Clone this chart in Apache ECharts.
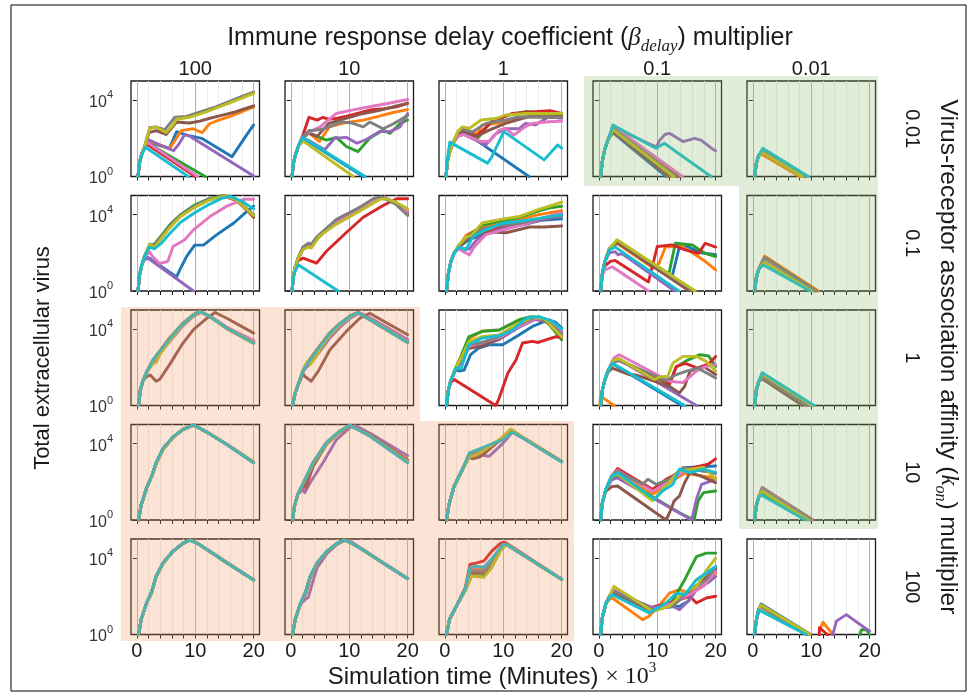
<!DOCTYPE html>
<html>
<head>
<meta charset="utf-8">
<script src="https://cdn.jsdelivr.net/npm/echarts@6/dist/echarts.min.js"></script>
<style>
  html, body { margin: 0; padding: 0; background: #fff; }
  #chart { width: 974px; height: 694px; }
</style>
</head>
<body>
<div id="chart"></div>
<script>
// Column headers: immune response delay coefficient multiplier
const delayMultipliers = ['100', '10', '1', '0.1', '0.01'];
// Row headers: virus-receptor association affinity multiplier
const konMultipliers = ['0.01', '0.1', '1', '10', '100'];
// Time axis (x 10^3 minutes)
const xTickValues = [0, 2, 4, 6, 8, 10, 12, 14, 16, 18, 20];
const xLabelValues = [0, 10, 20];
// Virus axis, in log10 units
const yLabelValues = [0, 4];
// Ten stochastic runs per panel, one colour each
const runColors = ['#1f77b4', '#ff7f0e', '#2ca02c', '#d62728', '#9467bd',
                   '#8c564b', '#e377c2', '#7f7f7f', '#bcbd22', '#17becf'];

// Each run: [time (10^3 min), log10 total extracellular virus]
// Runs listed blue, orange, green, red, purple, brown, pink, gray, olive, cyan.

// ---- k_on x0.01 ----
const k001_d100 = [
  [[0.2,0],[0.45,0.7],[0.8,1.15],[1.3,1.5],[1.8,1.8],[5.6,1.48],[6.8,2.35],[8.5,2.17],[11.1,2.0],[16.3,1.04],[18.6,2.09],[20,2.7]],
  [[0.2,0],[0.45,0.7],[0.8,1.15],[1.3,1.5],[1.8,1.9],[5.6,1.45],[7.6,2.4],[9.6,2.5],[11.2,2.3],[12.4,2.75],[14,2.95],[16,3.15],[18,3.4],[20,3.65]],
  [[0.2,0],[0.45,0.7],[0.8,1.15],[1.3,1.5],[1.8,1.75],[11.7,0]],
  [[0.2,0],[0.45,0.7],[0.8,1.15],[1.3,1.5],[1.7,1.7],[10.0,0]],
  [[0.2,0],[0.45,0.7],[0.8,1.15],[1.3,1.5],[1.8,1.95],[4,1.65],[6.3,1.35],[7.2,1.7],[8.2,2.2],[9,2.12],[20,0.03]],
  [[0.2,0],[0.45,0.7],[0.8,1.15],[1.3,1.55],[2.1,2.3],[3.3,2.4],[5,2.2],[6.8,2.85],[9,2.8],[10.8,2.9],[12.5,3.05],[14.5,3.2],[16.5,3.35],[18.5,3.55],[20,3.7]],
  [[0.2,0],[0.45,0.7],[0.8,1.15],[1.3,1.5],[1.7,1.8],[10.4,0]],
  [[0.2,0],[0.45,0.7],[0.8,1.15],[1.3,1.55],[2.2,2.55],[3.2,2.6],[4.8,2.45],[6.5,3.1],[8.5,3.15],[11,3.4],[13.5,3.65],[16,3.95],[18,4.2],[20,4.42]],
  [[0.2,0],[0.45,0.7],[0.8,1.15],[1.3,1.55],[2.2,2.5],[3.2,2.6],[5,2.3],[6.2,2.7],[6.8,3.0],[9,3.1],[12,3.4],[15,3.75],[18,4.1],[20,4.35]],
  [[0.2,0],[0.4,0.6],[0.7,1.0],[1.0,1.25],[1.5,1.53],[8.8,0]]
];
const k001_d10 = [
  [[0.2,0],[0.45,0.7],[0.8,1.15],[1.3,1.6],[2.1,2.0],[12.4,0]],
  [[0.2,0],[0.45,0.7],[0.8,1.15],[1.3,1.6],[2.1,2.0],[3.1,2.3],[4.9,1.83],[6.6,2.6],[9,2.8],[12.4,2.95],[15,3.15],[17.5,3.35],[20,3.5]],
  [[0.2,0],[0.45,0.7],[0.8,1.15],[1.3,1.6],[2.1,2.0],[3,2.3],[4.5,2.1],[6.1,1.9],[7.8,2.05],[9.5,1.57],[11.5,1.3],[13.5,2.0],[15.8,2.43],[17,2.26],[18.7,2.78],[20,2.96]],
  [[0.2,0],[0.45,0.7],[0.8,1.15],[1.3,1.6],[2.1,2.2],[3.1,3.1],[4.5,2.95],[5.5,3.1],[6.4,3.0],[8,3.05],[10.1,3.2],[13.5,3.48],[16,3.55],[18.1,3.65],[20,3.83]],
  [[0.2,0],[0.45,0.7],[0.8,1.15],[1.3,1.6],[2.1,2.0],[3,1.9],[5.8,1.4],[7.5,2.0],[9.5,2.05],[11.3,1.74],[13,1.95],[15.2,2.35],[17,2.35],[18.7,2.6],[20,3.3]],
  [[0.2,0],[0.45,0.7],[0.8,1.15],[1.3,1.6],[2.1,2.1],[3.1,2.26],[4.5,2.1],[6.5,2.78],[9,3.0],[12.4,3.3],[15,3.45],[17.5,3.65],[20,3.83]],
  [[0.2,0],[0.45,0.7],[0.8,1.15],[1.3,1.6],[2.1,2.1],[3.1,2.3],[5,2.6],[7.8,3.3],[10,3.45],[13.5,3.65],[17,3.85],[20,4.03]],
  [[0.2,0],[0.45,0.7],[0.8,1.15],[1.3,1.6],[2.1,2.1],[3.1,2.4],[5,2.45],[6.1,2.55],[8.5,2.85],[10.5,2.8],[12.4,2.6],[13.5,2.85],[15.8,2.5],[17.5,2.75],[20,3.2]],
  [[0.2,0],[0.45,0.7],[0.8,1.15],[1.3,1.6],[2.1,1.85],[10.7,0]],
  [[0.2,0],[0.45,0.7],[0.8,1.15],[1.3,1.6],[2.0,2.05],[12.7,0]]
];
const k001_d1 = [
  [[0.2,0],[0.45,0.8],[0.8,1.25],[1.3,1.7],[2.2,2.1],[3,2.4],[14.4,0]],
  [[0.2,0],[0.45,0.8],[0.8,1.25],[1.3,1.7],[2.2,2.2],[3,2.5],[4.5,2.35],[5.6,2.25],[6.4,2.7],[9.3,2.8],[12,3.05],[15,3.15],[20,3.1]],
  [[0.2,0],[0.45,0.8],[0.8,1.25],[1.3,1.7],[2.2,2.2],[3.2,2.45],[5.6,2.0],[7.9,2.87],[11,3.22],[13.8,3.4],[16,3.35],[20,3.22]],
  [[0.2,0],[0.45,0.8],[0.8,1.25],[1.3,1.7],[2.2,2.2],[3.2,2.45],[5.4,2.1],[8.1,2.87],[11.5,3.3],[16.1,3.4],[18,3.45],[20,3.3]],
  [[0.2,0],[0.45,0.8],[0.8,1.25],[1.3,1.7],[2.2,2.1],[3.2,2.2],[6,1.8],[7,1.65],[8.8,2.26],[10.5,2.5],[12.7,2.5],[13.8,2.78],[15.5,2.7],[17.8,3.13],[20,3.05]],
  [[0.2,0],[0.45,0.8],[0.8,1.25],[1.3,1.7],[2.2,2.25],[3,2.43],[5.3,2.08],[7.6,2.43],[10.4,2.78],[14.4,3.13],[20,3.13]],
  [[0.2,0],[0.45,0.8],[0.8,1.25],[1.3,1.7],[2.2,2.1],[3.2,2.2],[6.2,1.83],[7.6,1.83],[9.3,2.43],[10.4,2.52],[11.8,2.17],[13.8,2.61],[15,2.78],[17.8,2.87],[20,2.9]],
  [[0.2,0],[0.45,0.8],[0.8,1.25],[1.3,1.7],[2.2,2.3],[3,2.5],[4.7,2.33],[7,2.78],[10.4,2.96],[12.7,3.13],[20,3.09]],
  [[0.2,0],[0.45,0.8],[0.8,1.25],[1.3,1.7],[2.2,2.35],[3,2.6],[4.2,2.52],[6.2,2.96],[8.9,3.05],[10.4,3.22],[13.8,3.3],[20,3.3]],
  [[0.2,0],[0.4,0.8],[0.6,1.3],[0.85,1.8],[7.3,0.7],[8,1.0],[10.1,2.35],[17,0.87],[19.3,1.65],[20,1.48]]
];
const k001_d01 = [
  [[0.3,0],[0.6,0.8],[1.0,1.4],[1.6,1.95],[2.4,2.3],[11.5,0]],
  [[0.3,0],[0.6,0.8],[1.0,1.4],[1.6,1.95],[2.4,2.4],[12.4,0]],
  [[0.3,0],[0.6,0.8],[1.0,1.4],[1.6,1.95],[2.5,2.55],[14,0]],
  [[0.3,0],[0.6,0.8],[1.0,1.4],[1.6,1.95],[2.5,2.5],[13.5,0]],
  [[0.3,0],[0.6,0.8],[1.0,1.4],[1.6,1.95],[2.5,2.6],[8.7,1.7],[9.9,1.55],[10.3,1.85],[11.3,2.2],[12.1,2.26],[14.4,1.83],[16.4,2.0],[17.5,1.9],[19.5,1.43],[20,1.35]],
  [[0.3,0],[0.6,0.8],[1.0,1.4],[1.6,1.95],[2.4,2.35],[12,0]],
  [[0.3,0],[0.6,0.8],[1.0,1.4],[1.6,1.95],[2.5,2.62],[14.3,0]],
  [[0.3,0],[0.6,0.8],[1.0,1.4],[1.6,1.95],[2.5,2.5],[13.2,0]],
  [[0.3,0],[0.6,0.8],[1.0,1.4],[1.6,1.95],[2.4,2.45],[12.8,0]],
  [[0.3,0],[0.6,0.8],[1.0,1.4],[1.6,1.95],[2.4,2.7],[8.7,1.65],[9.8,1.48],[11.2,1.74],[19.2,0]]
];
const k001_d001 = [
  [[0.3,0],[0.6,0.7],[1.0,1.1],[1.7,1.3],[8.6,0]],
  [[0.3,0],[0.6,0.7],[1.0,1.1],[1.6,1.15],[8.0,0]],
  [[0.3,0],[0.6,0.7],[1.0,1.1],[1.7,1.3],[8.7,0]],
  [[0.3,0],[0.6,0.7],[1.0,1.1],[1.7,1.32],[8.8,0]],
  [[0.3,0],[0.6,0.7],[1.0,1.1],[1.7,1.35],[8.9,0]],
  [[0.3,0],[0.6,0.7],[1.0,1.1],[1.7,1.35],[8.9,0]],
  [[0.3,0],[0.6,0.7],[1.0,1.1],[1.7,1.38],[9.0,0]],
  [[0.3,0],[0.6,0.7],[1.0,1.1],[1.7,1.4],[9.1,0]],
  [[0.3,0],[0.6,0.7],[1.0,1.1],[1.7,1.25],[8.5,0]],
  [[0.3,0],[0.6,0.7],[1.0,1.1],[1.7,1.48],[9.5,0]]
];

// ---- k_on x0.1 ----
const k01_d100 = [
  [[0.2,0],[0.45,0.8],[0.8,1.3],[1.3,1.7],[2.0,1.75],[6.8,0.74],[7.5,1.2],[8.5,1.8],[9.9,2.4],[11.4,2.4],[13.7,2.95],[16.6,3.56],[18.9,4.18],[20,4.44]],
  [[0.2,0],[0.45,0.8],[0.8,1.3],[1.3,1.8],[2.2,2.4],[3,2.4],[4.2,2.85],[5.6,3.4],[7.5,3.97],[9.9,4.43],[12.5,4.82],[15,4.97],[17,4.78],[20,3.92]],
  [[0.2,0],[0.45,0.8],[0.8,1.3],[1.3,1.8],[2.2,2.4],[3,2.45],[4.2,2.9],[5.6,3.45],[7.5,4.0],[9.9,4.5],[12.5,4.85],[14.5,4.98],[16,4.95],[18,4.5],[20,3.95]],
  [[0.2,0],[0.45,0.8],[0.8,1.3],[1.3,1.8],[2.2,2.35],[3,2.35],[4.2,2.8],[5.6,3.38],[7.5,3.95],[9.9,4.4],[12.5,4.8],[15,4.96],[17,4.75],[20,3.9]],
  [[0.2,0],[0.45,0.8],[0.8,1.3],[1.3,1.65],[2.0,1.7],[9.7,0]],
  [[0.2,0],[0.45,0.8],[0.8,1.3],[1.3,1.8],[2.2,2.4],[3,2.35],[4.2,2.8],[5.6,3.35],[7.5,3.95],[9.9,4.42],[12.5,4.8],[14.8,4.97],[16.5,4.9],[18,4.55],[20,3.85]],
  [[0.2,0],[0.45,0.8],[0.8,1.3],[1.3,1.8],[2.2,2.05],[2.7,1.8],[3.9,1.44],[5.3,1.55],[6.2,2.33],[8.2,2.68],[9.7,3.2],[12.5,3.9],[15.4,4.44],[18.3,4.8],[20,4.8]],
  [[0.2,0],[0.45,0.8],[0.8,1.3],[1.3,1.8],[2.2,2.45],[3,2.4],[4.2,2.85],[5.6,3.4],[7.5,3.98],[9.9,4.45],[12.5,4.83],[15,4.98],[17,4.8],[20,4.0]],
  [[0.2,0],[0.45,0.8],[0.8,1.3],[1.3,1.8],[2.2,2.45],[3,2.3],[4.2,2.75],[5.6,3.3],[7.5,3.9],[9.9,4.38],[12.5,4.78],[15.2,4.96],[17,4.78],[20,3.95]],
  [[0.2,0],[0.45,0.8],[0.8,1.3],[1.3,1.8],[2.2,2.3],[3,2.2],[4.2,2.5],[5.6,3.0],[7.5,3.6],[9.9,4.1],[12.5,4.55],[14.5,4.85],[16,4.95],[18,4.7],[20,4.3]]
];
const k01_d10 = [
  [[0.2,0],[0.45,0.8],[0.8,1.3],[1.3,1.75],[2.1,2.25],[3,2.4],[3.5,2.35],[4.5,2.8],[7.8,3.7],[11.3,4.25],[14.5,4.8],[16,4.9],[18,4.6],[20,4.1]],
  [[0.2,0],[0.45,0.8],[0.8,1.3],[1.3,1.75],[2.1,2.2],[3,2.4],[3.5,2.3],[4.5,2.75],[7.8,3.68],[11.3,4.24],[14.5,4.8],[16,4.88],[18,4.62],[20,4.2]],
  [[0.2,0],[0.45,0.8],[0.8,1.3],[1.3,1.75],[2.1,2.3],[3,2.45],[3.5,2.4],[4.5,2.8],[7.8,3.7],[11.3,4.26],[14.5,4.82],[16,4.9],[18,4.58],[20,4.05]],
  [[0.2,0],[0.45,0.8],[0.8,1.3],[1.3,1.6],[2.1,1.72],[4.4,1.46],[6.1,2.08],[9.5,3.06],[12.4,3.86],[15.8,4.48],[18.1,4.83],[20,4.83]],
  [[0.2,0],[0.45,0.8],[0.8,1.3],[1.3,1.75],[2.1,2.2],[3,2.35],[3.5,2.3],[4.5,2.72],[7.8,3.65],[11.3,4.22],[14.5,4.78],[16,4.88],[18,4.6],[20,4.12]],
  [[0.2,0],[0.45,0.8],[0.8,1.3],[1.3,1.75],[2.1,2.25],[3,2.42],[3.5,2.35],[4.5,2.8],[7.8,3.72],[11.3,4.28],[14.5,4.83],[15.8,4.9],[18,4.55],[20,4.0]],
  [[0.2,0],[0.45,0.8],[0.8,1.3],[1.3,1.75],[2.1,2.25],[3,2.4],[3.5,2.35],[4.5,2.75],[7.8,3.65],[11.3,4.22],[14.5,4.82],[16,4.9],[18,4.6],[20,4.15]],
  [[0.2,0],[0.45,0.8],[0.8,1.3],[1.3,1.75],[2.1,2.3],[3,2.5],[3.5,2.45],[4.5,2.85],[7.8,3.75],[11.3,4.3],[14.2,4.85],[15.5,4.93],[18,4.55],[20,3.95]],
  [[0.2,0],[0.45,0.8],[0.8,1.3],[1.3,1.75],[2.1,2.17],[3,2.3],[3.5,2.25],[5,2.9],[7.8,3.5],[11.3,4.1],[15.3,4.8],[16.4,4.83],[18,4.65],[20,4.3]],
  [[0.2,0],[0.4,0.6],[0.7,1.0],[1.26,1.37],[8.1,0]]
];
const k01_d1 = [
  [[0.3,0],[0.6,0.9],[1.0,1.5],[1.6,2.0],[2.4,2.3],[4.2,2.7],[7,3.0],[10,3.2],[13,3.5],[16.5,3.7],[20,3.78]],
  [[0.3,0],[0.6,0.9],[1.0,1.5],[1.6,2.0],[2.4,2.35],[3.6,2.9],[6,3.3],[9.3,3.55],[12.7,3.75],[16.1,4.0],[20,4.2]],
  [[0.3,0],[0.6,0.9],[1.0,1.5],[1.6,2.0],[2.4,2.35],[3.6,2.8],[5,3.1],[6.4,3.45],[9.3,3.65],[12.7,3.85],[16.1,4.2],[18,4.35],[20,4.44]],
  [[0.3,0],[0.6,0.9],[1.0,1.5],[1.6,2.0],[2.4,2.3],[4.2,2.95],[7,3.05],[9.3,3.3],[12.7,3.47],[16.1,3.7],[18.5,3.85],[20,4.05]],
  [[0.3,0],[0.6,0.9],[1.0,1.5],[1.6,2.0],[2.4,2.25],[4.2,2.2],[5.5,2.7],[7.5,3.05],[10.5,3.3],[14,3.5],[17,3.75],[20,3.95]],
  [[0.3,0],[0.6,0.9],[1.0,1.5],[1.6,2.0],[2.4,2.3],[4.2,2.8],[7,3.1],[10.5,3.05],[14.5,3.35],[17,3.35],[20,3.4]],
  [[0.3,0],[0.6,0.9],[1.0,1.5],[1.6,2.0],[2.4,2.2],[4.2,1.88],[5,2.3],[7,2.95],[10,3.2],[13,3.45],[16.5,3.8],[20,4.1]],
  [[0.3,0],[0.6,0.9],[1.0,1.5],[1.6,2.0],[2.4,2.4],[4.2,2.9],[7,3.3],[10,3.45],[13,3.55],[16.5,3.8],[20,3.95]],
  [[0.3,0],[0.6,0.9],[1.0,1.5],[1.6,2.0],[2.4,2.4],[3.6,2.83],[4.5,2.9],[6.4,3.56],[9.3,3.74],[12.7,3.9],[16.1,4.27],[18,4.45],[20,4.65]],
  [[0.3,0],[0.6,0.9],[1.0,1.5],[1.6,2.0],[2.4,2.3],[3.6,2.15],[4.8,2.85],[7,3.2],[9.9,3.55],[12.7,3.65],[16.1,3.8],[20,4.0]]
];
const k01_d01 = [
  [[0.3,0],[0.6,0.9],[1.0,1.5],[1.8,2.2],[3.1,2.5],[12.5,0.7],[13.7,2.2],[15,2.35],[17.5,2.0],[20,1.9]],
  [[0.3,0],[0.6,0.9],[1.0,1.5],[1.8,2.2],[3.1,2.5],[9.3,1.2],[10.3,1.44],[11.4,2.3],[14,2.35],[16,2.0],[18,1.6],[20,1.1]],
  [[0.3,0],[0.6,0.9],[1.0,1.5],[1.8,2.2],[3.1,2.6],[12,0.9],[13.1,2.5],[16,2.41],[18.2,1.97],[20,1.8]],
  [[0.3,0],[0.6,0.9],[1.0,1.3],[2.0,1.55],[2.8,1.6],[8.5,0.47],[10,2.33],[12.5,2.41],[14.8,2.15],[17.1,1.97],[18.2,2.5],[20,2.3]],
  [[0.3,0],[0.6,0.9],[1.0,1.5],[1.8,2.0],[2.8,2.06],[3.3,1.9],[4,1.95],[13,0]],
  [[0.3,0],[0.6,0.9],[1.0,1.5],[1.8,2.2],[3.1,2.55],[15.5,0]],
  [[0.3,0],[0.6,0.8],[1.0,1.1],[2.3,1.27],[8.5,0]],
  [[0.3,0],[0.6,0.9],[1.0,1.5],[1.8,2.2],[3.1,2.65],[16.2,0]],
  [[0.3,0],[0.6,0.9],[1.0,1.5],[1.8,2.2],[3.1,2.68],[16.5,0]],
  [[0.3,0],[0.6,0.9],[1.0,1.5],[1.8,2.15],[2.8,2.3],[13.7,0]]
];
const k01_d001 = [
  [[0.3,0],[0.6,0.7],[1.0,1.15],[2.0,1.55],[10.3,0]],
  [[0.3,0],[0.6,0.7],[1.0,1.15],[2.0,1.83],[11.2,0]],
  [[0.3,0],[0.6,0.7],[1.0,1.15],[2.0,1.6],[10.5,0]],
  [[0.3,0],[0.6,0.7],[1.0,1.15],[2.0,1.65],[10.6,0]],
  [[0.3,0],[0.6,0.7],[1.0,1.15],[2.0,1.7],[10.8,0]],
  [[0.3,0],[0.6,0.7],[1.0,1.15],[2.0,1.75],[10.9,0]],
  [[0.3,0],[0.6,0.7],[1.0,1.15],[2.0,1.6],[10.4,0]],
  [[0.3,0],[0.6,0.7],[1.0,1.15],[2.0,1.72],[10.8,0]],
  [[0.3,0],[0.6,0.7],[1.0,1.15],[2.0,1.5],[10.1,0]],
  [[0.3,0],[0.6,0.7],[1.0,1.15],[1.8,1.36],[9.8,0]]
];

// ---- k_on x1 ----
const k1_d100 = [
  [[0.3,0],[0.6,0.8],[1.0,1.25],[1.6,1.7],[2.8,2.35],[3.9,2.8],[5.6,3.45],[7.9,4.25],[9.7,4.72],[10.9,4.9],[12.5,4.66],[15.4,4.05],[20,3.3]],
  [[0.3,0],[0.6,0.8],[1.0,1.25],[1.6,1.7],[2.8,2.4],[3.9,2.85],[5.6,3.55],[7.9,4.32],[9.7,4.77],[10.7,4.93],[12.5,4.65],[15.4,4.02],[20,3.25]],
  [[0.3,0],[0.6,0.8],[1.0,1.25],[1.6,1.7],[2.8,2.25],[3.3,2.3],[3.9,2.7],[5.6,3.4],[7.9,4.25],[9.7,4.72],[10.8,4.9],[12.5,4.66],[15.4,4.05],[20,3.3]],
  [[0.3,0],[0.6,0.8],[1.0,1.25],[1.6,1.7],[2.8,2.38],[3.9,2.82],[5.6,3.48],[7.9,4.28],[9.7,4.74],[10.9,4.91],[12.5,4.68],[15.4,4.08],[20,3.35]],
  [[0.3,0],[0.6,0.8],[1.0,1.25],[1.6,1.7],[2.8,2.3],[3.9,2.7],[5.6,3.35],[7.9,4.18],[9.7,4.68],[11,4.88],[12.5,4.68],[15.4,4.08],[20,3.4]],
  [[0.3,0],[0.6,0.8],[1.0,1.25],[1.6,1.5],[2.3,1.6],[3.3,1.27],[3.9,1.36],[5.6,2.14],[7.9,3.27],[9.7,3.97],[12,4.57],[13.4,4.87],[15.4,4.57],[20,3.79]],
  [[0.3,0],[0.6,0.8],[1.0,1.25],[1.6,1.7],[2.8,2.4],[3.3,2.45],[3.9,2.78],[5.6,3.45],[7.9,4.28],[9.7,4.74],[10.8,4.91],[12.5,4.67],[15.4,4.1],[20,3.4]],
  [[0.3,0],[0.6,0.8],[1.0,1.25],[1.6,1.7],[2.8,2.36],[3.9,2.8],[5.6,3.47],[7.9,4.27],[9.7,4.73],[10.8,4.91],[12.5,4.66],[15.4,4.06],[20,3.3]],
  [[0.3,0],[0.6,0.8],[1.0,1.25],[1.6,1.7],[2.8,2.2],[3.3,2.25],[3.9,2.65],[5.6,3.4],[7.9,4.25],[9.7,4.72],[10.8,4.9],[12.5,4.66],[15.4,4.05],[20,3.3]],
  [[0.3,0],[0.6,0.8],[1.0,1.25],[1.6,1.7],[2.8,2.4],[3.9,2.83],[5.6,3.5],[7.9,4.3],[9.7,4.75],[10.8,4.92],[12.5,4.66],[15.4,4.05],[20,3.27]]
];
const k1_d10 = [
  [[0.3,0],[0.7,0.6],[1.26,1.1],[2.1,1.8],[3.3,2.38],[5,3.08],[6.7,3.75],[8.4,4.25],[10.1,4.63],[11.6,4.86],[13.5,4.5],[16.4,4.0],[20,3.35]],
  [[0.3,0],[0.7,0.6],[1.26,1.1],[2.1,1.8],[3.3,2.45],[5,3.15],[6.7,3.82],[8.4,4.3],[10.1,4.68],[11.4,4.88],[13.5,4.48],[16.4,3.95],[20,3.28]],
  [[0.3,0],[0.7,0.6],[1.26,1.1],[2.1,1.8],[3.3,2.4],[5,3.1],[6.7,3.78],[8.4,4.27],[10.1,4.65],[11.5,4.87],[13.5,4.5],[16.4,3.98],[20,3.3]],
  [[0.3,0],[0.7,0.6],[1.26,1.1],[2.1,1.8],[3.3,2.42],[5,3.12],[6.7,3.8],[8.4,4.28],[10.1,4.66],[11.5,4.87],[13.5,4.5],[16.4,3.98],[20,3.32]],
  [[0.3,0],[0.7,0.6],[1.26,1.1],[2.1,1.8],[3.3,2.2],[5,2.85],[6.7,3.55],[8.4,4.1],[10.1,4.55],[11.8,4.85],[13.5,4.6],[16.4,4.1],[20,3.45]],
  [[0.3,0],[0.7,0.6],[1.26,1.1],[2.1,1.65],[2.4,1.53],[3.5,1.27],[4.7,1.8],[6.7,2.92],[9.5,3.88],[11.8,4.57],[13.5,4.83],[16,4.4],[20,3.71]],
  [[0.3,0],[0.7,0.6],[1.26,1.1],[2.1,1.8],[3.3,2.35],[5,3.05],[6.7,3.72],[8.4,4.22],[10.1,4.62],[11.6,4.86],[13.5,4.52],[16.4,4.02],[20,3.38]],
  [[0.3,0],[0.7,0.6],[1.26,1.1],[2.1,1.8],[3.3,2.4],[5,3.1],[6.7,3.78],[8.4,4.26],[10.1,4.64],[11.5,4.87],[13.5,4.5],[16.4,3.98],[20,3.32]],
  [[0.3,0],[0.7,0.6],[1.26,1.1],[2.1,1.9],[2.8,2.3],[3.3,2.14],[4.3,2.55],[5,2.95],[6.7,3.7],[8.4,4.22],[10.1,4.62],[11.5,4.86],[13.5,4.5],[16.4,3.98],[20,3.3]],
  [[0.3,0],[0.7,0.6],[1.26,1.1],[2.1,1.8],[3.3,2.4],[5,3.1],[6.7,3.8],[8.4,4.28],[10.1,4.66],[11.5,4.87],[13.5,4.49],[16.4,3.97],[20,3.3]]
];
const k1_d1 = [
  [[0.3,0],[0.6,0.8],[1.0,1.3],[1.9,1.9],[2.5,1.8],[3.3,1.85],[4.4,2.66],[5.8,3.0],[7.6,3.18],[9.9,3.18],[12.2,3.6],[15,4.14],[17.8,4.49],[19,4.35],[20,4.05]],
  [[0.3,0],[0.6,0.8],[1.0,1.3],[1.9,2.0],[2.8,2.55],[4.1,3.5],[6.4,3.9],[9.3,3.95],[12.7,4.45],[15,4.65],[17,4.5],[20,3.8]],
  [[0.3,0],[0.6,0.8],[1.0,1.3],[1.9,2.0],[2.8,2.6],[4.1,3.6],[6.4,3.88],[9.3,3.95],[12.7,4.49],[14.4,4.63],[16.5,4.6],[18,4.2],[20,3.44]],
  [[0.3,0],[0.6,0.8],[1.0,1.2],[1.6,1.36],[8.7,0],[9.2,0.3],[10.8,1.7],[12.2,2.4],[13.3,3.27],[15,3.36],[16,3.3],[17.3,3.44],[19,3.6],[20,3.58]],
  [[0.3,0],[0.6,0.8],[1.0,1.3],[1.9,1.9],[2.8,2.3],[4.1,3.05],[6.4,3.15],[9.3,3.45],[12.7,4.1],[15.5,4.5],[17.5,4.4],[20,3.85]],
  [[0.3,0],[0.6,0.8],[1.0,1.3],[1.9,1.9],[2.8,2.35],[4.1,3.0],[6.4,3.1],[9.3,3.5],[12.7,4.2],[15.5,4.55],[17.5,4.35],[20,3.7]],
  [[0.3,0],[0.6,0.8],[1.0,1.3],[1.9,1.95],[2.8,2.4],[4.1,3.1],[6.4,3.3],[9.3,3.55],[12.7,4.15],[15.5,4.55],[17.5,4.45],[20,3.9]],
  [[0.3,0],[0.6,0.8],[1.0,1.3],[1.9,1.95],[2.8,2.45],[4.1,3.2],[6.4,3.3],[9.3,3.6],[12.7,4.25],[15.5,4.62],[17.5,4.4],[20,3.75]],
  [[0.3,0],[0.6,0.8],[1.0,1.3],[1.9,2.0],[2.8,2.5],[4.1,3.35],[6.4,3.6],[9.3,3.7],[12.7,4.3],[15,4.62],[17,4.55],[20,3.6]],
  [[0.3,0],[0.6,0.8],[1.0,1.3],[1.9,1.96],[2.8,1.95],[4.1,3.18],[6.4,3.53],[9.3,3.65],[11.6,3.95],[13.9,4.57],[16.1,4.66],[18.4,4.4],[20,4.0]]
];
const k1_d01 = [
  [[0.3,0],[0.6,0.8],[1.0,1.3],[1.6,1.85],[2.3,2.2],[14.2,0]],
  [[0.15,0],[0.3,0.49],[2.6,0]],
  [[0.3,0],[0.6,0.8],[1.0,1.3],[1.6,1.85],[2.6,2.35],[3.5,2.4],[12.1,1.1],[13.2,2.0],[15,2.35],[17.3,2.66],[18.8,2.6],[20,2.05]],
  [[0.3,0],[0.6,0.8],[1.0,1.3],[1.6,1.85],[2.6,2.3],[3.5,2.35],[12.1,1.15],[13.3,2.05],[14.8,2.2],[16.9,1.96],[18.9,2.2],[20,2.57]],
  [[0.3,0],[0.6,0.8],[1.0,1.3],[1.6,1.85],[2.6,2.45],[3.5,2.4],[16.7,0]],
  [[0.3,0],[0.6,0.8],[1.0,1.3],[1.6,1.75],[2.3,1.96],[5.2,1.62],[6.3,1.6],[12.1,1.0],[13.8,0.66],[14.7,1.0],[15.6,1.8],[17.9,2.05],[20,1.62]],
  [[0.3,0],[0.6,0.8],[1.0,1.3],[1.6,1.85],[2.6,2.5],[3.5,2.66],[12.1,1.27],[14.4,1.2],[16.7,1.8],[18.4,2.05],[20,2.14]],
  [[0.3,0],[0.6,0.8],[1.0,1.3],[1.6,1.85],[2.6,2.3],[3.5,2.35],[11.5,1.3],[12.5,1.5],[13.3,1.62],[15,1.8],[16.9,1.96],[20,1.44]],
  [[0.3,0],[0.6,0.8],[1.0,1.3],[1.6,1.85],[2.6,2.4],[3.5,2.45],[9.5,1.36],[10.5,1.5],[11.8,1.53],[12.7,2.23],[14.4,2.57],[16.7,2.57],[18.4,2.31],[20,1.8]],
  [[0.3,0],[0.6,0.8],[1.0,1.3],[1.6,1.85],[2.3,2.23],[14.7,0]]
];
const k1_d001 = [
  [[0.3,0],[0.6,0.8],[1.0,1.25],[1.6,1.5],[9.3,0]],
  [[0.3,0],[0.6,0.8],[1.0,1.25],[1.6,1.52],[9.4,0]],
  [[0.3,0],[0.6,0.8],[1.0,1.25],[1.6,1.55],[9.6,0]],
  [[0.3,0],[0.6,0.8],[1.0,1.25],[1.6,1.58],[9.7,0]],
  [[0.3,0],[0.6,0.8],[1.0,1.25],[1.6,1.6],[9.8,0]],
  [[0.3,0],[0.6,0.8],[1.0,1.25],[1.6,1.4],[8.5,0]],
  [[0.3,0],[0.6,0.8],[1.0,1.25],[1.6,1.62],[10,0]],
  [[0.3,0],[0.6,0.8],[1.0,1.25],[1.6,1.5],[9.2,0]],
  [[0.3,0],[0.6,0.8],[1.0,1.25],[1.6,1.65],[10.2,0]],
  [[0.3,0],[0.6,0.8],[1.0,1.25],[1.6,1.72],[10.5,0]]
];

// ---- k_on x10 ----
const k10_d100 = [
  [[0.3,0],[0.75,0.8],[1.7,1.7],[2.5,2.25],[3.3,3.0],[4.5,3.75],[6.2,4.35],[7.9,4.75],[9.7,4.97],[12,4.6],[15.4,3.97],[20,3.02]],
  [[0.3,0],[0.75,0.8],[1.7,1.7],[2.5,2.25],[3.3,2.97],[4.5,3.72],[6.2,4.33],[7.9,4.74],[9.7,4.97],[12,4.61],[15.4,3.96],[20,3.01]],
  [[0.3,0],[0.75,0.8],[1.7,1.7],[2.5,2.25],[3.3,2.98],[4.5,3.74],[6.2,4.34],[7.9,4.75],[9.7,4.97],[12,4.6],[15.4,3.95],[20,3.0]],
  [[0.3,0],[0.75,0.8],[1.7,1.7],[2.5,2.25],[3.3,2.95],[4.5,3.7],[6.2,4.32],[7.9,4.74],[9.7,4.97],[12,4.6],[15.4,3.96],[20,3.02]],
  [[0.3,0],[0.75,0.8],[1.7,1.7],[2.5,2.25],[3.3,2.96],[4.5,3.71],[6.2,4.33],[7.9,4.74],[9.7,4.97],[12,4.61],[15.4,3.97],[20,3.03]],
  [[0.3,0],[0.75,0.8],[1.7,1.7],[2.5,2.25],[3.3,2.94],[4.5,3.7],[6.2,4.32],[7.9,4.73],[9.7,4.97],[12,4.6],[15.4,3.96],[20,3.01]],
  [[0.3,0],[0.75,0.8],[1.7,1.7],[2.5,2.25],[3.3,2.93],[4.5,3.7],[6.2,4.33],[7.9,4.74],[9.7,4.97],[12,4.61],[15.4,3.97],[20,3.03]],
  [[0.3,0],[0.75,0.8],[1.7,1.7],[2.5,2.25],[3.3,2.97],[4.5,3.73],[6.2,4.34],[7.9,4.75],[9.7,4.97],[12,4.6],[15.4,3.96],[20,3.01]],
  [[0.3,0],[0.75,0.8],[1.7,1.7],[2.5,2.25],[3.3,2.92],[4.5,3.69],[6.2,4.32],[7.9,4.74],[9.7,4.97],[12,4.61],[15.4,3.97],[20,3.04]],
  [[0.3,0],[0.75,0.8],[1.7,1.7],[2.5,2.25],[3.3,3.0],[4.5,3.75],[6.2,4.35],[7.9,4.75],[9.7,4.97],[12,4.6],[15.4,3.95],[20,3.0]]
];
const k10_d10 = [
  [[0.3,0],[0.6,0.7],[1.2,1.35],[2.1,1.9],[3.8,3.0],[6.1,4.05],[8.4,4.66],[10.1,4.96],[13.5,4.42],[20,3.05]],
  [[0.3,0],[0.6,0.7],[1.2,1.35],[2.1,1.9],[3.8,3.02],[6.1,4.07],[8.4,4.67],[10.1,4.96],[13.5,4.4],[20,3.02]],
  [[0.3,0],[0.6,0.7],[1.2,1.35],[2.1,1.9],[3.8,2.95],[6.1,4.02],[8.4,4.64],[10.2,4.95],[13.5,4.42],[20,3.08]],
  [[0.3,0],[0.6,0.7],[1.2,1.35],[2.1,1.8],[2.5,1.75],[3.8,2.85],[6.1,4.0],[8.4,4.62],[10.2,4.95],[13.5,4.42],[20,3.1]],
  [[0.3,0],[0.6,0.7],[1.2,1.35],[2.1,1.6],[2.4,1.43],[3.2,1.9],[5.5,3.0],[7.8,4.2],[10.1,4.83],[11,4.95],[13.5,4.55],[20,3.36]],
  [[0.3,0],[0.6,0.7],[1.2,1.35],[2.1,1.75],[2.6,1.7],[3.8,2.8],[6.1,3.95],[8.4,4.6],[10.3,4.95],[13.5,4.45],[20,3.15]],
  [[0.3,0],[0.6,0.7],[1.2,1.35],[2.1,1.9],[3.8,2.98],[6.1,4.03],[8.4,4.65],[10.1,4.96],[13.5,4.41],[20,3.05]],
  [[0.3,0],[0.6,0.7],[1.2,1.35],[2.1,1.9],[3.8,2.97],[6.1,4.02],[8.4,4.64],[10.1,4.95],[13.5,4.43],[20,3.08]],
  [[0.3,0],[0.6,0.7],[1.2,1.35],[2.1,1.9],[3.8,2.96],[6.1,4.0],[8.4,4.63],[10.2,4.95],[13.5,4.42],[20,3.05]],
  [[0.3,0],[0.6,0.7],[1.2,1.35],[2.1,1.9],[3.8,3.0],[6.1,4.05],[8.4,4.66],[10.1,4.96],[13.5,4.4],[20,3.0]]
];
const k10_d1 = [
  [[0.3,0],[0.7,0.8],[1.6,1.78],[3.0,2.64],[4.2,3.45],[5.3,3.6],[7,3.8],[9.9,4.25],[11.5,4.65],[13.3,4.32],[20,3.06]],
  [[0.3,0],[0.7,0.8],[1.6,1.78],[3.0,2.64],[4.2,3.5],[5.3,3.62],[7,3.82],[9.9,4.22],[11.6,4.62],[13.3,4.3],[20,3.05]],
  [[0.3,0],[0.7,0.8],[1.6,1.78],[3.0,2.64],[4.2,3.3],[5.3,3.35],[6.5,3.4],[7.6,3.72],[9.9,4.3],[11.4,4.7],[13.3,4.33],[20,3.06]],
  [[0.3,0],[0.7,0.8],[1.6,1.78],[3.0,2.64],[4.2,3.45],[5.3,3.55],[7,3.75],[9.9,4.25],[11.5,4.7],[13.3,4.34],[20,3.07]],
  [[0.3,0],[0.7,0.8],[1.6,1.78],[3.0,2.64],[4.2,3.4],[5.3,3.45],[7.6,3.34],[9.9,4.0],[11.6,4.6],[13.3,4.3],[20,3.05]],
  [[0.3,0],[0.7,0.8],[1.6,1.78],[3.0,2.64],[4.2,3.35],[4.7,3.2],[6,3.3],[7.6,3.7],[9.9,4.3],[11.4,4.7],[13.3,4.32],[20,3.06]],
  [[0.3,0],[0.7,0.8],[1.6,1.78],[3.0,2.64],[4.2,3.45],[5.3,3.55],[7,3.8],[9.9,4.28],[11.5,4.68],[13.3,4.32],[20,3.06]],
  [[0.3,0],[0.7,0.8],[1.6,1.78],[3.0,2.64],[4.2,3.4],[5.3,3.5],[7,3.75],[9.9,4.25],[11.5,4.67],[13.3,4.32],[20,3.06]],
  [[0.3,0],[0.7,0.8],[1.6,1.78],[3.0,2.64],[4.2,3.3],[5.3,3.4],[7,3.7],[9.9,4.35],[11.3,4.77],[13.3,4.35],[20,3.04]],
  [[0.3,0],[0.7,0.8],[1.6,1.78],[3.0,2.64],[4.2,3.5],[5.3,3.65],[7.0,3.86],[9.9,4.2],[11.6,4.6],[13.3,4.3],[20,3.04]]
];
const k10_d01 = [
  [[0.3,0],[0.6,0.9],[1.2,1.6],[2.2,2.3],[3.2,2.5],[9.2,1.6],[12.1,2.05],[14.7,2.74],[20,2.83]],
  [[0.3,0],[0.6,0.9],[1.2,1.6],[2.2,2.3],[3.2,2.4],[9.2,1.35],[12.1,1.95],[14.7,2.45],[17.9,2.3],[20,2.2]],
  [[0.3,0],[0.6,0.9],[1.2,1.6],[2.2,2.2],[3.2,2.3],[10.9,0.9],[13.8,0.38],[16.3,0],[16.5,0],[17,1.0],[17.9,1.43],[20,1.52]],
  [[0.3,0],[0.6,0.9],[1.2,1.6],[2.2,2.3],[3.2,2.69],[9.2,1.6],[11.5,2.13],[13.8,2.48],[16.1,2.74],[18.7,2.92],[20,3.2]],
  [[0.3,0],[0.6,0.9],[1.2,1.6],[2.2,2.1],[3.2,2.2],[15.9,0],[16.2,0],[16.7,1.08],[17.6,1.87],[20,2.13]],
  [[0.3,0],[0.6,0.9],[1.2,1.5],[2.2,1.75],[3.2,1.78],[11.5,0],[12.1,0.38],[12.9,1.0],[13.8,1.26],[14.7,1.96],[15.6,2.48],[17.5,2.3],[20,1.96]],
  [[0.3,0],[0.6,0.9],[1.2,1.6],[2.2,2.3],[3.2,2.6],[9.2,1.5],[12.1,2.0],[14.7,2.55],[17.9,2.6],[20,2.4]],
  [[0.3,0],[0.6,0.9],[1.2,1.6],[2.2,2.3],[3.2,2.55],[7.5,1.87],[8.4,2.13],[9.8,1.87],[12.1,2.13],[14.4,2.74],[17.9,2.55],[20,2.48]],
  [[0.3,0],[0.6,0.9],[1.2,1.6],[2.2,2.3],[3.2,2.4],[9.2,1.0],[10.9,1.6],[13.8,2.55],[17.9,2.76],[20,2.13]],
  [[0.3,0],[0.6,0.9],[1.2,1.6],[2.2,2.3],[3.2,2.48],[9.5,1.08],[10.9,1.52],[12.7,1.87],[13.8,2.66],[15.6,2.48],[17.9,2.66],[20,2.48]]
];
const k10_d001 = [
  [[0.3,0],[0.6,0.75],[1.0,1.2],[1.6,1.5],[9.5,0]],
  [[0.3,0],[0.6,0.75],[1.0,1.2],[1.6,1.45],[9.3,0]],
  [[0.3,0],[0.6,0.75],[1.0,1.2],[1.6,1.42],[9.2,0]],
  [[0.3,0],[0.6,0.75],[1.0,1.2],[1.6,1.55],[9.7,0]],
  [[0.3,0],[0.6,0.75],[1.0,1.2],[1.6,1.58],[9.9,0]],
  [[0.3,0],[0.6,0.75],[1.0,1.2],[1.6,1.7],[10.3,0]],
  [[0.3,0],[0.6,0.75],[1.0,1.2],[1.6,1.65],[10.1,0]],
  [[0.3,0],[0.6,0.75],[1.0,1.2],[1.6,1.6],[10,0]],
  [[0.3,0],[0.6,0.75],[1.0,1.2],[1.6,1.5],[9.5,0]],
  [[0.3,0],[0.6,0.75],[1.0,1.2],[1.5,1.3],[9,0]]
];

// ---- k_on x100 ----
const k100_d100 = [
  [[0.3,0],[0.75,0.8],[1.7,1.67],[2.5,2.2],[3.3,3.04],[4.5,3.75],[6.2,4.36],[7.9,4.77],[9.1,4.94],[10.2,4.8],[12,4.45],[15.4,3.77],[20,2.86]],
  [[0.3,0],[0.75,0.8],[1.7,1.67],[2.5,2.2],[3.3,3.05],[4.5,3.76],[6.2,4.37],[7.9,4.77],[9.1,4.94],[10.2,4.8],[12,4.45],[15.4,3.76],[20,2.85]],
  [[0.3,0],[0.75,0.8],[1.7,1.67],[2.5,2.18],[3.3,3.02],[4.5,3.74],[6.2,4.36],[7.9,4.77],[9.1,4.94],[10.2,4.8],[12,4.45],[15.4,3.77],[20,2.86]],
  [[0.3,0],[0.75,0.8],[1.7,1.67],[2.5,2.2],[3.3,3.03],[4.5,3.75],[6.2,4.36],[7.9,4.77],[9.1,4.94],[10.2,4.8],[12,4.45],[15.4,3.76],[20,2.85]],
  [[0.3,0],[0.75,0.8],[1.7,1.67],[2.5,2.15],[3.3,3.0],[4.5,3.73],[6.2,4.35],[7.9,4.76],[9.1,4.94],[10.2,4.8],[12,4.45],[15.4,3.77],[20,2.86]],
  [[0.3,0],[0.75,0.8],[1.7,1.67],[2.5,2.2],[3.3,3.04],[4.5,3.75],[6.2,4.36],[7.9,4.77],[9.1,4.94],[10.2,4.8],[12,4.45],[15.4,3.76],[20,2.85]],
  [[0.3,0],[0.75,0.8],[1.7,1.67],[2.5,2.17],[3.3,3.0],[4.5,3.74],[6.2,4.36],[7.9,4.77],[9.1,4.94],[10.2,4.8],[12,4.45],[15.4,3.77],[20,2.87]],
  [[0.3,0],[0.75,0.8],[1.7,1.67],[2.5,2.2],[3.3,3.05],[4.5,3.76],[6.2,4.37],[7.9,4.77],[9.1,4.94],[10.2,4.8],[12,4.45],[15.4,3.76],[20,2.85]],
  [[0.3,0],[0.75,0.8],[1.7,1.67],[2.5,2.18],[3.3,3.02],[4.5,3.75],[6.2,4.36],[7.9,4.77],[9.1,4.94],[10.2,4.8],[12,4.45],[15.4,3.77],[20,2.86]],
  [[0.3,0],[0.75,0.8],[1.7,1.67],[2.5,2.2],[3.3,3.06],[4.5,3.76],[6.2,4.37],[7.9,4.77],[9.1,4.94],[10.2,4.8],[12,4.45],[15.4,3.76],[20,2.85]]
];
const k100_d10 = [
  [[0.3,0],[0.75,0.8],[1.7,1.67],[2.5,2.2],[3.3,3.02],[4.5,3.74],[6.2,4.36],[7.9,4.77],[9.1,4.94],[10.2,4.82],[12,4.5],[15.4,3.82],[20,2.93]],
  [[0.3,0],[0.75,0.8],[1.7,1.67],[2.5,2.2],[3.3,3.04],[4.5,3.76],[6.2,4.37],[7.9,4.77],[9.1,4.94],[10.2,4.82],[12,4.5],[15.4,3.82],[20,2.92]],
  [[0.3,0],[0.75,0.8],[1.7,1.67],[2.5,2.15],[3.3,2.98],[4.5,3.72],[6.2,4.34],[7.9,4.76],[9.1,4.94],[10.2,4.82],[12,4.5],[15.4,3.83],[20,2.93]],
  [[0.3,0],[0.75,0.8],[1.7,1.67],[2.5,2.1],[3.3,2.95],[4.5,3.7],[6.2,4.33],[7.9,4.76],[9.1,4.94],[10.2,4.82],[12,4.5],[15.4,3.82],[20,2.92]],
  [[0.3,0],[0.75,0.8],[1.7,1.6],[2.5,1.85],[3,1.95],[3.6,2.6],[4.5,3.5],[6.2,4.25],[7.9,4.72],[9.3,4.94],[10.4,4.84],[12,4.52],[15.4,3.84],[20,2.94]],
  [[0.3,0],[0.75,0.8],[1.7,1.67],[2.5,2.12],[3.3,2.96],[4.5,3.71],[6.2,4.34],[7.9,4.76],[9.1,4.94],[10.2,4.82],[12,4.5],[15.4,3.82],[20,2.93]],
  [[0.3,0],[0.75,0.8],[1.7,1.67],[2.5,2.2],[3.3,3.03],[4.5,3.75],[6.2,4.36],[7.9,4.77],[9.1,4.94],[10.2,4.82],[12,4.5],[15.4,3.82],[20,2.92]],
  [[0.3,0],[0.75,0.8],[1.7,1.67],[2.5,2.2],[3.3,3.04],[4.5,3.75],[6.2,4.36],[7.9,4.77],[9.1,4.94],[10.2,4.82],[12,4.5],[15.4,3.82],[20,2.92]],
  [[0.3,0],[0.75,0.8],[1.7,1.67],[2.5,2.18],[3.3,3.0],[4.5,3.74],[6.2,4.35],[7.9,4.77],[9.1,4.94],[10.2,4.82],[12,4.5],[15.4,3.82],[20,2.93]],
  [[0.3,0],[0.75,0.8],[1.7,1.67],[2.5,2.2],[3.3,3.06],[4.5,3.76],[6.2,4.37],[7.9,4.77],[9.1,4.94],[10.2,4.82],[12,4.5],[15.4,3.82],[20,2.92]]
];
const k100_d1 = [
  [[0.3,0],[0.8,0.8],[2,1.5],[3.5,2.37],[4.4,3.4],[6.7,3.35],[8.2,3.9],[9.8,4.6],[10.5,4.72],[20,2.89]],
  [[0.3,0],[0.8,0.8],[2,1.5],[3.5,2.37],[4.4,3.45],[6.7,3.4],[8.2,3.95],[9.8,4.62],[10.5,4.72],[20,2.9]],
  [[0.3,0],[0.8,0.8],[2,1.5],[3.5,2.3],[4.6,3.1],[6.5,3.05],[8,3.5],[9.7,4.5],[10.6,4.7],[20,2.88]],
  [[0.3,0],[0.8,0.8],[2,1.5],[3.5,2.45],[4.3,3.67],[5.5,3.75],[6.7,3.85],[8,4.35],[9.6,4.8],[10.3,4.83],[20,2.9]],
  [[0.3,0],[0.8,0.8],[2,1.5],[3.5,2.37],[4.5,3.3],[6.7,3.25],[8.2,3.8],[9.8,4.55],[10.6,4.71],[20,2.9]],
  [[0.3,0],[0.8,0.8],[2,1.5],[3.5,2.37],[4.5,3.25],[6.7,3.2],[8.2,3.75],[9.8,4.55],[10.6,4.71],[20,2.89]],
  [[0.3,0],[0.8,0.8],[2,1.5],[3.5,2.37],[4.4,3.5],[6.7,3.55],[8.2,4.0],[9.8,4.65],[10.4,4.73],[20,2.9]],
  [[0.3,0],[0.8,0.8],[2,1.5],[3.5,2.37],[4.5,3.35],[6.7,3.3],[8.2,3.85],[9.8,4.58],[10.6,4.71],[20,2.89]],
  [[0.3,0],[0.8,0.8],[2,1.5],[3.5,2.3],[4.6,3.06],[6.7,3.0],[7.9,3.45],[9.6,4.45],[10.6,4.7],[20,2.88]],
  [[0.3,0],[0.8,0.8],[2,1.5],[3.5,2.37],[4.3,3.5],[5.2,3.58],[6.7,3.5],[8.4,4.1],[9.9,4.7],[10.5,4.72],[20,2.89]]
];
const k100_d01 = [
  [[0.3,0],[0.6,0.9],[1.2,1.6],[1.8,2.0],[2.6,2.26],[9.2,1.39],[13.8,1.48],[15.3,1.74],[16.7,2.52],[20,3.39]],
  [[0.3,0],[0.6,0.9],[1.2,1.6],[1.8,1.85],[2.3,1.91],[7.5,0.78],[8.6,0.96],[10.5,1.57],[12.1,2.17],[13.8,2.35],[15.6,2.17],[18,2.61],[20,3.2]],
  [[0.3,0],[0.6,0.9],[1.2,1.6],[1.8,2.0],[2.6,2.26],[8.6,1.3],[12.1,1.48],[14.7,2.87],[16.7,4.08],[18.4,4.26],[20,4.26]],
  [[0.3,0],[0.6,0.9],[1.2,1.6],[1.8,2.0],[2.6,2.35],[8.6,1.39],[12.1,1.65],[15.6,2.0],[16.7,1.65],[18.4,1.91],[20,2.0]],
  [[0.3,0],[0.6,0.9],[1.2,1.6],[1.8,2.0],[2.6,2.17],[9.2,1.39],[12.1,1.57],[13.8,1.3],[15.6,1.83],[16.7,2.35],[19,2.78],[20,3.04]],
  [[0.3,0],[0.6,0.9],[1.2,1.6],[1.8,2.0],[2.6,2.17],[9.2,1.22],[12.7,1.57],[15.6,2.26],[17.9,2.87],[20,3.47]],
  [[0.3,0],[0.6,0.9],[1.2,1.6],[1.8,2.0],[2.6,2.35],[9.2,1.3],[12.1,1.57],[15,2.0],[17.9,2.52],[20,3.3]],
  [[0.3,0],[0.6,0.9],[1.2,1.6],[1.8,2.0],[2.6,2.26],[9.2,1.3],[12.7,1.48],[15.6,2.35],[18.4,2.87],[20,3.56]],
  [[0.3,0],[0.6,0.9],[1.2,1.6],[1.8,2.0],[2.6,2.52],[9.2,1.22],[12.1,1.48],[14.4,2.17],[16.7,2.5],[18.5,3.4],[20,4.0]],
  [[0.3,0],[0.6,0.9],[1.2,1.6],[1.8,1.95],[2.3,2.08],[7.5,1.3],[8.6,1.13],[11.5,1.65],[13.3,2.17],[14.7,2.08],[16.7,2.87],[20,3.56]]
];
const k100_d001 = [
  [[0.3,0],[0.6,0.75],[1.0,1.3],[1.4,1.6],[9.9,0]],
  [[0.3,0],[0.6,0.75],[1.0,1.3],[1.3,1.45],[9.3,0],[9.6,-1],[11.2,-1],[11.4,0.2],[12,0.64],[13.7,0],[14,-1]],
  [[0.3,0],[0.6,0.75],[1.0,1.3],[1.3,1.4],[9.2,0],[9.5,-1],[18.1,-1],[18.3,0],[18.6,0.25],[19.4,0.25],[20,0]],
  [[0.3,0],[0.6,0.75],[1.0,1.3],[1.4,1.5],[9.5,0],[9.8,-1],[11.2,-1],[11.4,0.35],[12.8,0],[13,-1]],
  [[0.3,0],[0.6,0.75],[1.0,1.3],[1.4,1.55],[9.7,0],[10,-1],[13.5,-1],[13.7,0],[14.3,0.7],[16,1.04],[20,0.17]],
  [[0.3,0],[0.6,0.75],[1.0,1.3],[1.4,1.52],[9.6,0]],
  [[0.3,0],[0.6,0.75],[1.0,1.3],[1.4,1.5],[9.5,0]],
  [[0.3,0],[0.6,0.75],[1.0,1.3],[1.4,1.48],[9.4,0]],
  [[0.3,0],[0.6,0.75],[1.0,1.3],[1.4,1.55],[9.8,0]],
  [[0.3,0],[0.6,0.75],[1.0,1.3],[1.3,1.4],[9.1,0]]
];

// Rows follow konMultipliers, columns follow delayMultipliers
const panelRuns = [
  [k001_d100, k001_d10, k001_d1, k001_d01, k001_d001],
  [k01_d100,  k01_d10,  k01_d1,  k01_d01,  k01_d001],
  [k1_d100,   k1_d10,   k1_d1,   k1_d01,   k1_d001],
  [k10_d100,  k10_d10,  k10_d1,  k10_d01,  k10_d001],
  [k100_d100, k100_d10, k100_d1, k100_d01, k100_d001]
];

// ---------- layout ----------
const COL_LEFT = [131, 285, 439, 593, 747];
const ROW_TOP = [81, 195.5, 310, 424.5, 539];
const PW = 128.5, PH = 95.5;
const SANS = 'Liberation Sans';
const INK = '#1a1a1a';
const MAJOR_GRID = '#b0b0b0';
const MINOR_GRID = '#ececec';
const NONE = 'rgba(0,0,0,0)';
// vertical grid colours for ticks at -1,0,1,...,21 (major at 0/10/20, minor at even values)
const vGridCycle = [NONE, MAJOR_GRID, NONE, MINOR_GRID, NONE, MINOR_GRID, NONE, MINOR_GRID, NONE, MINOR_GRID];

const grid = [], xAxis = [], yAxis = [], series = [];
for (let r = 0; r < 5; r++) {
  for (let c = 0; c < 5; c++) {
    const g = grid.length;
    grid.push({
      left: COL_LEFT[c], top: ROW_TOP[r], width: PW, height: PH,
      show: true, borderColor: INK, borderWidth: 1.3, backgroundColor: 'transparent'
    });
    // time axis carrying the runs
    xAxis.push({
      gridIndex: g, type: 'value', min: -1, max: 21, position: 'bottom',
      axisLine: { show: false }, splitLine: { show: false },
      axisTick: { show: true, customValues: xTickValues, length: 4, lineStyle: { color: INK, width: 1 } },
      axisLabel: {
        show: r === 4, customValues: xLabelValues, margin: 7,
        fontSize: 20, fontFamily: SANS, color: INK
      }
    });
    // companion axis used only for the vertical grid
    xAxis.push({
      gridIndex: g, type: 'value', min: -1, max: 21, interval: 1, position: 'top',
      axisLine: { show: false }, axisTick: { show: false }, axisLabel: { show: false },
      splitLine: { show: true, lineStyle: { color: vGridCycle, width: 1 } }
    });
    yAxis.push({
      gridIndex: g, type: 'value', min: 0, max: 5, interval: 4,
      axisLine: { show: false },
      splitLine: { show: true, showMinLine: false, showMaxLine: false, lineStyle: { color: MAJOR_GRID, width: 1 } },
      axisTick: { show: true, customValues: yLabelValues, length: 4, lineStyle: { color: INK, width: 1 } },
      axisLabel: {
        show: c === 0, customValues: yLabelValues, margin: 18,
        formatter: v => '{b|10}{s|' + v + '}',
        rich: {
          b: { fontSize: 16, fontFamily: SANS, color: '#333', lineHeight: 21, verticalAlign: 'bottom' },
          s: { fontSize: 11, fontFamily: SANS, color: '#333', lineHeight: 12, verticalAlign: 'top' }
        }
      }
    });
    panelRuns[r][c].forEach((run, k) => {
      series.push({
        type: 'line', xAxisIndex: 2 * g, yAxisIndex: g, data: run,
        showSymbol: false, symbol: 'none', clip: true, silent: true,
        lineStyle: { color: runColors[k], width: 2.9, join: 'round', cap: 'round' },
        emphasis: { disabled: true }
      });
    });
  }
}

// ---------- titles, headers and shaded regions ----------
const graphic = [];
graphic.push({
  type: 'rect', shape: { x: 11, y: 5, width: 955, height: 686 },
  style: { fill: 'none', stroke: '#000', lineWidth: 1 }, silent: true, z: 0
});
graphic.push({
  type: 'text', x: 510, y: 38, silent: true,
  style: {
    text: '{t|Immune response delay coefficient (}{g|β}{s|delay}{t|) multiplier}',
    align: 'center', verticalAlign: 'middle',
    rich: {
      t: { fontSize: 25, fontFamily: SANS, fill: INK, lineHeight: 34, verticalAlign: 'middle' },
      g: { fontSize: 25, fontFamily: 'Liberation Serif', fontStyle: 'italic', fill: INK, lineHeight: 34, verticalAlign: 'middle' },
      s: { fontSize: 17, fontFamily: 'Liberation Serif', fontStyle: 'italic', fill: INK, lineHeight: 19, verticalAlign: 'bottom' }
    }
  }
});
delayMultipliers.forEach((lab, c) => {
  graphic.push({
    type: 'text', x: COL_LEFT[c] + PW / 2, y: 69, silent: true,
    style: { text: lab, align: 'center', verticalAlign: 'middle', fontSize: 20, fontFamily: SANS, fill: INK }
  });
});
konMultipliers.forEach((lab, r) => {
  graphic.push({
    type: 'text', x: 912, y: ROW_TOP[r] + PH / 2, rotation: -Math.PI / 2, silent: true,
    style: { text: lab, align: 'center', verticalAlign: 'middle', fontSize: 20, fontFamily: SANS, fill: INK }
  });
});
graphic.push({
  type: 'text', x: 948, y: 357, rotation: -Math.PI / 2, silent: true,
  style: {
    text: '{t|Virus-receptor association affinity (}{k|k}{s|on}{t|) multiplier}',
    align: 'center', verticalAlign: 'middle',
    rich: {
      t: { fontSize: 24.5, fontFamily: SANS, fill: INK, lineHeight: 32, verticalAlign: 'middle' },
      k: { fontSize: 24.5, fontFamily: 'Liberation Serif', fontStyle: 'italic', fill: INK, lineHeight: 32, verticalAlign: 'middle' },
      s: { fontSize: 16, fontFamily: 'Liberation Serif', fontStyle: 'italic', fill: INK, lineHeight: 18, verticalAlign: 'bottom' }
    }
  }
});
graphic.push({
  type: 'text', x: 43, y: 358, rotation: Math.PI / 2, silent: true,
  style: { text: 'Total extracellular virus', align: 'center', verticalAlign: 'middle', fontSize: 22, fontFamily: SANS, fill: INK }
});
graphic.push({
  type: 'text', x: 492, y: 677, silent: true,
  style: {
    text: '{t|Simulation time (Minutes) }{m|× 10}{p|3}',
    align: 'center', verticalAlign: 'middle',
    rich: {
      t: { fontSize: 24, fontFamily: SANS, fill: INK, lineHeight: 32, verticalAlign: 'middle' },
      m: { fontSize: 24, fontFamily: 'Liberation Serif', fill: INK, lineHeight: 32, verticalAlign: 'middle' },
      p: { fontSize: 15, fontFamily: 'Liberation Serif', fill: INK, lineHeight: 15, verticalAlign: 'top' }
    }
  }
});
// translucent washes over the two highlighted parameter regions
graphic.push({
  type: 'polygon', silent: true, z: 100,
  shape: { points: [[584, 76], [878, 76], [878, 529], [739, 529], [739, 186], [584, 186]] },
  style: { fill: 'rgba(139,183,103,0.25)' }
});
graphic.push({
  type: 'polygon', silent: true, z: 100,
  shape: { points: [[121, 307], [420, 307], [420, 421], [574, 421], [574, 641], [121, 641]] },
  style: { fill: 'rgba(239,143,91,0.25)' }
});

const chart = echarts.init(document.getElementById('chart'), null, { renderer: 'canvas' });
chart.setOption({
  animation: false,
  backgroundColor: '#ffffff',
  grid, xAxis, yAxis, series, graphic
});
</script>
</body>
</html>
